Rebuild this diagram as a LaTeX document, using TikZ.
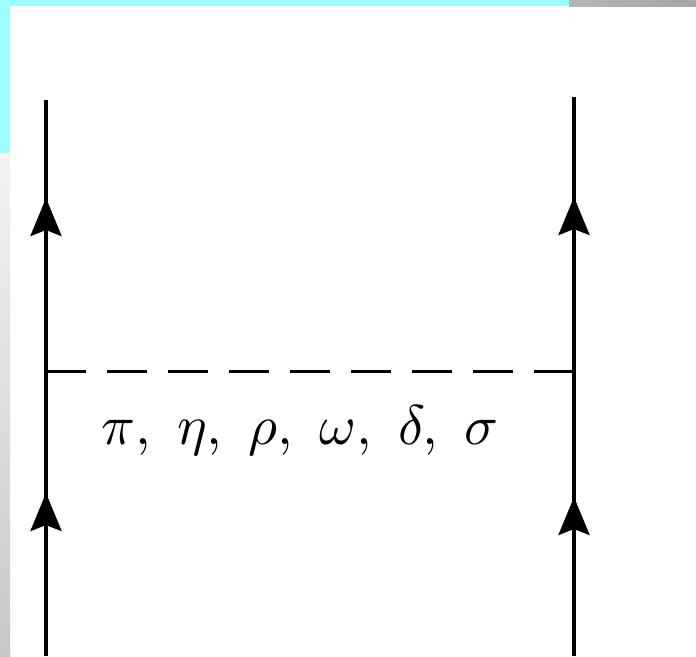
\documentclass[tikz,border=0pt]{standalone}
\usepackage{graphicx}
\usetikzlibrary{arrows.meta}
\definecolor{cyanbar}{RGB}{160,252,252}
\definecolor{graybarA}{RGB}{182,182,182}
\definecolor{graybarB}{RGB}{166,166,166}
\definecolor{sideA}{RGB}{243,243,243}
\definecolor{sideB}{RGB}{200,200,200}
\tikzset{
  fermion/.style={line width=4pt},
  headarrow/.style={line width=4pt,-{Stealth[length=38pt,width=31pt,inset=6pt]}},
  meson/.style={line width=3pt,dash pattern=on 40pt off 21pt},
  label/.style={inner sep=0pt,anchor=base}
}
\begin{document}
\begin{tikzpicture}[x=1pt,y=-1pt]
\useasboundingbox (0,0) rectangle (696,656);
\fill[white] (0,0) rectangle (696,656);
% decorative frame
\fill[cyanbar] (0,0) rectangle (569,6);
\shade[left color=graybarA,right color=graybarB] (569,0) rectangle (696,6);
\fill[cyanbar] (0,0) rectangle (10,153);
\shade[top color=sideA,bottom color=sideB] (0,153) rectangle (10,656);
% coordinates
\coordinate (Lb) at (46,656);
\coordinate (Lt) at (46,100);
\coordinate (Rb) at (574,656);
\coordinate (Rt) at (574,97);
\coordinate (Lv) at (46,371);
\coordinate (Rv) at (574,371);
\coordinate (L1s) at (46,560);
\coordinate (L1) at (46,493);
\coordinate (L2s) at (46,265);
\coordinate (L2) at (46,198);
\coordinate (R1s) at (574,564);
\coordinate (R1) at (574,497);
\coordinate (R2s) at (574,264);
\coordinate (R2) at (574,197);
% fermion lines
\draw[fermion] (Lb) -- (Lt);
\draw[fermion] (Rb) -- (Rt);
\draw[headarrow] (L1s) -- (L1);
\draw[headarrow] (L2s) -- (L2);
\draw[headarrow] (R1s) -- (R1);
\draw[headarrow] (R2s) -- (R2);
% meson exchange
\draw[meson] (Lv) -- (Rv);
\node[label] (lab) at (300,444) {\scalebox{5.6}{$\pi,\mkern5.5mu\eta,\mkern5.5mu\rho,\mkern5.5mu\omega,\mkern5.5mu\delta,\mkern5.5mu\sigma$}};
\end{tikzpicture}
\end{document}
